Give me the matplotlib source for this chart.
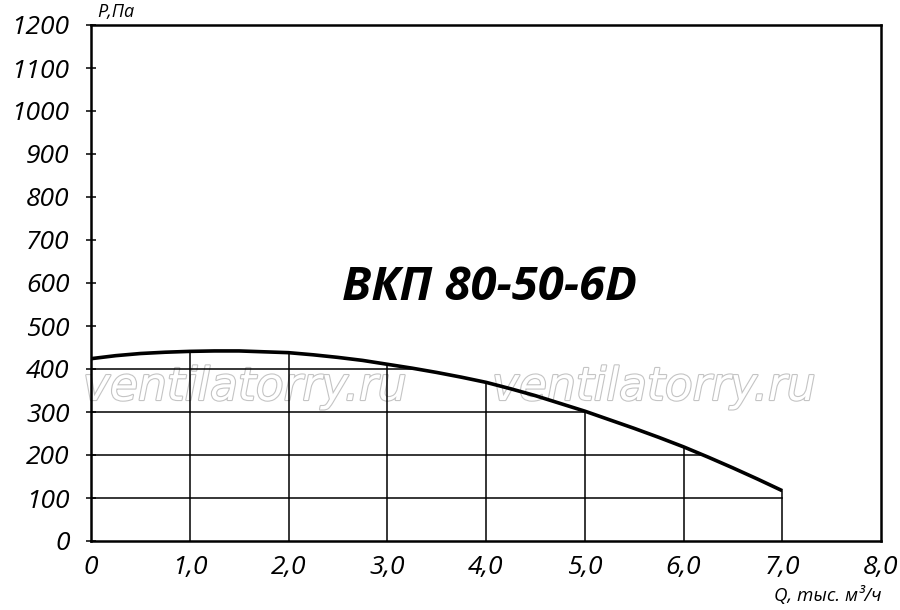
#!/usr/bin/env python3
# fan curve chart: pressure vs air flow
import numpy as np
import matplotlib
matplotlib.use("Agg")
import matplotlib.pyplot as plt
import matplotlib.patheffects as pe
from matplotlib.transforms import IdentityTransform

# DATA
flow = [0.0, 0.25, 0.5, 0.75, 1.0, 1.25, 1.5, 1.75, 2.0, 2.25, 2.5, 2.75, 3.0, 3.25,
        3.5, 3.75, 4.0, 4.25, 4.5, 4.75, 5.0, 5.25, 5.5, 5.75, 6.0, 6.25, 6.5, 6.75, 7.0]
pressure = [424, 431, 436, 439, 441, 442, 442, 440, 438, 433, 427, 420, 411, 402,
            392, 381, 369, 354, 338, 320, 302, 282, 262, 241, 219, 195, 170, 144, 117]
x_ticks = [0, 1, 2, 3, 4, 5, 6, 7, 8]
x_labels = ["0", "1,0", "2,0", "3,0", "4,0", "5,0", "6,0", "7,0", "8,0"]
y_ticks = list(range(0, 1201, 100))
grid_y = [100, 200, 300, 400]
grid_x = [1, 2, 3, 4, 5, 6, 7]
title = "ВКП 80-50-6D"
watermark = "ventilatorry.ru"

FONT = "Open Sans"

fig = plt.figure(figsize=(9, 6.1), dpi=100)
ax = fig.add_axes([91 / 900, 69 / 610, 790 / 900, 516 / 610])
ax.set_xlim(0, 8)
ax.set_ylim(0, 1200)

# watermark: outlined letters
for x0 in (83, 492):
    ax.text(x0, 610 - 400, watermark, transform=IdentityTransform(), fontsize=32.8,
            family="DejaVu Sans", style="italic", color="white", ha="left",
            va="baseline", zorder=1,
            path_effects=[pe.withStroke(linewidth=1.6, foreground="#c4c4c4")])

# grid only below the curve
fx = np.array(flow)
fy = np.array(pressure)
for gx in grid_x:
    ax.plot([gx, gx], [0, np.interp(gx, fx, fy)], color="black", lw=1.1, zorder=2)
imax = int(np.argmax(fy))
for gy in grid_y:
    if gy < fy[-1]:
        xe = fx[-1]
    else:
        xe = np.interp(gy, fy[imax:][::-1], fx[imax:][::-1])
    ax.plot([0, xe], [gy, gy], color="black", lw=1.1, zorder=2)

ax.plot(flow, pressure, color="black", lw=2.6, zorder=3, solid_capstyle="butt")

for s in ax.spines.values():
    s.set_linewidth(1.8)

ax.set_xticks(x_ticks)
ax.set_xticklabels(x_labels)
ax.set_yticks(y_ticks)
ax.tick_params(axis="x", length=0, pad=10)
ax.tick_params(axis="y", direction="inout", length=7, width=1.1, pad=12)
for lab in ax.get_xticklabels() + ax.get_yticklabels():
    lab.set_family(FONT)
    lab.set_style("italic")
    lab.set_fontsize(19)

ax.text(489, 610 - 288, title, transform=IdentityTransform(), fontsize=34, family=FONT,
        style="italic", weight="bold", ha="center", va="center", zorder=4)
fig.text(97 / 900, 1 - 12 / 610, "Р,Па", fontsize=13, family=FONT, style="italic",
         ha="left", va="center")
fig.text(882 / 900, 1 - 595 / 610, "Q, тыс. м³/ч", fontsize=13.5, family=FONT,
         style="italic", ha="right", va="center")

fig.savefig("out.png", dpi=100)
